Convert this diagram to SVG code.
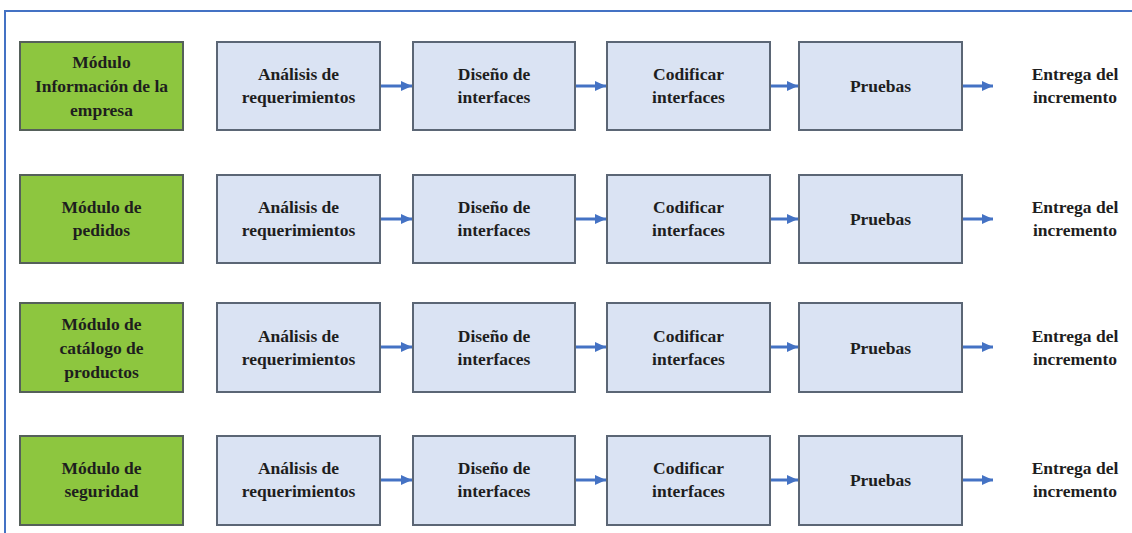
<svg xmlns="http://www.w3.org/2000/svg" width="1132" height="533" viewBox="0 0 1132 533">
<defs>
<style>
.mod{fill:#8DC63F;stroke:#55605a;stroke-width:2}
.step{fill:#DAE3F3;stroke:#5b6675;stroke-width:2}
.t{font-family:'Liberation Serif','DejaVu Serif',serif;font-weight:bold;font-size:17.5px;fill:#1e1e1e;text-anchor:middle}
.c{stroke:#4472C4;stroke-width:3;fill:none}
</style>
<marker id="ah" markerUnits="userSpaceOnUse" markerWidth="12" markerHeight="12" refX="11" refY="6" orient="auto">
<path d="M0,1 L11,6 L0,11 Z" fill="#4472C4"/>
</marker>
</defs>
<rect width="1132" height="533" fill="#ffffff"/>
<path d="M5,533 L5,11 L1132,11" fill="none" stroke="#4472C4" stroke-width="2"/>

<g id="row1" font-family="Liberation Serif, DejaVu Serif, serif">
<g id="m1"><rect class="mod" x="20" y="42" width="163" height="88"/><text class="t" x="101.5" y="68">Módulo</text><text class="t" x="101.5" y="92">Información de la</text><text class="t" x="101.5" y="116">empresa</text></g>
<g id="r1a"><rect class="step" x="217" y="42" width="163" height="88"/><text class="t" x="298.5" y="80">Análisis de</text><text class="t" x="298.5" y="103">requerimientos</text></g>
<g id="r1b"><rect class="step" x="413" y="42" width="162" height="88"/><text class="t" x="494" y="80">Diseño de</text><text class="t" x="494" y="103">interfaces</text></g>
<g id="r1c"><rect class="step" x="607" y="42" width="163" height="88"/><text class="t" x="688.5" y="80">Codificar</text><text class="t" x="688.5" y="103">interfaces</text></g>
<g id="r1d"><rect class="step" x="799" y="42" width="163" height="88"/><text class="t" x="880.5" y="92">Pruebas</text></g>
<g id="r1e"><text class="t" x="1075" y="80">Entrega del</text><text class="t" x="1075" y="103">incremento</text></g>
</g>

<g id="row2" font-family="Liberation Serif, DejaVu Serif, serif">
<g id="m2"><rect class="mod" x="20" y="175" width="163" height="88"/><text class="t" x="101.5" y="213">Módulo de</text><text class="t" x="101.5" y="236">pedidos</text></g>
<g id="r2a"><rect class="step" x="217" y="175" width="163" height="88"/><text class="t" x="298.5" y="213">Análisis de</text><text class="t" x="298.5" y="236">requerimientos</text></g>
<g id="r2b"><rect class="step" x="413" y="175" width="162" height="88"/><text class="t" x="494" y="213">Diseño de</text><text class="t" x="494" y="236">interfaces</text></g>
<g id="r2c"><rect class="step" x="607" y="175" width="163" height="88"/><text class="t" x="688.5" y="213">Codificar</text><text class="t" x="688.5" y="236">interfaces</text></g>
<g id="r2d"><rect class="step" x="799" y="175" width="163" height="88"/><text class="t" x="880.5" y="225">Pruebas</text></g>
<g id="r2e"><text class="t" x="1075" y="213">Entrega del</text><text class="t" x="1075" y="236">incremento</text></g>
</g>

<g id="row3" font-family="Liberation Serif, DejaVu Serif, serif">
<g id="m3"><rect class="mod" x="20" y="303" width="163" height="89"/><text class="t" x="101.5" y="330">Módulo de</text><text class="t" x="101.5" y="354">catálogo de</text><text class="t" x="101.5" y="378">productos</text></g>
<g id="r3a"><rect class="step" x="217" y="303" width="163" height="89"/><text class="t" x="298.5" y="342">Análisis de</text><text class="t" x="298.5" y="365">requerimientos</text></g>
<g id="r3b"><rect class="step" x="413" y="303" width="162" height="89"/><text class="t" x="494" y="342">Diseño de</text><text class="t" x="494" y="365">interfaces</text></g>
<g id="r3c"><rect class="step" x="607" y="303" width="163" height="89"/><text class="t" x="688.5" y="342">Codificar</text><text class="t" x="688.5" y="365">interfaces</text></g>
<g id="r3d"><rect class="step" x="799" y="303" width="163" height="89"/><text class="t" x="880.5" y="354">Pruebas</text></g>
<g id="r3e"><text class="t" x="1075" y="342">Entrega del</text><text class="t" x="1075" y="365">incremento</text></g>
</g>

<g id="row4" font-family="Liberation Serif, DejaVu Serif, serif">
<g id="m4"><rect class="mod" x="20" y="436" width="163" height="89"/><text class="t" x="101.5" y="474">Módulo de</text><text class="t" x="101.5" y="497">seguridad</text></g>
<g id="r4a"><rect class="step" x="217" y="436" width="163" height="89"/><text class="t" x="298.5" y="474">Análisis de</text><text class="t" x="298.5" y="497">requerimientos</text></g>
<g id="r4b"><rect class="step" x="413" y="436" width="162" height="89"/><text class="t" x="494" y="474">Diseño de</text><text class="t" x="494" y="497">interfaces</text></g>
<g id="r4c"><rect class="step" x="607" y="436" width="163" height="89"/><text class="t" x="688.5" y="474">Codificar</text><text class="t" x="688.5" y="497">interfaces</text></g>
<g id="r4d"><rect class="step" x="799" y="436" width="163" height="89"/><text class="t" x="880.5" y="486">Pruebas</text></g>
<g id="r4e"><text class="t" x="1075" y="474">Entrega del</text><text class="t" x="1075" y="497">incremento</text></g>
</g>

<g id="connectors">
<line class="c" x1="381" y1="86" x2="412" y2="86" marker-end="url(#ah)"/>
<line class="c" x1="576" y1="86" x2="606" y2="86" marker-end="url(#ah)"/>
<line class="c" x1="771" y1="86" x2="798" y2="86" marker-end="url(#ah)"/>
<line class="c" x1="963" y1="86" x2="993" y2="86" marker-end="url(#ah)"/>
<line class="c" x1="381" y1="219" x2="412" y2="219" marker-end="url(#ah)"/>
<line class="c" x1="576" y1="219" x2="606" y2="219" marker-end="url(#ah)"/>
<line class="c" x1="771" y1="219" x2="798" y2="219" marker-end="url(#ah)"/>
<line class="c" x1="963" y1="219" x2="993" y2="219" marker-end="url(#ah)"/>
<line class="c" x1="381" y1="347" x2="412" y2="347" marker-end="url(#ah)"/>
<line class="c" x1="576" y1="347" x2="606" y2="347" marker-end="url(#ah)"/>
<line class="c" x1="771" y1="347" x2="798" y2="347" marker-end="url(#ah)"/>
<line class="c" x1="963" y1="347" x2="993" y2="347" marker-end="url(#ah)"/>
<line class="c" x1="381" y1="480" x2="412" y2="480" marker-end="url(#ah)"/>
<line class="c" x1="576" y1="480" x2="606" y2="480" marker-end="url(#ah)"/>
<line class="c" x1="771" y1="480" x2="798" y2="480" marker-end="url(#ah)"/>
<line class="c" x1="963" y1="480" x2="993" y2="480" marker-end="url(#ah)"/>
</g>
</svg>
